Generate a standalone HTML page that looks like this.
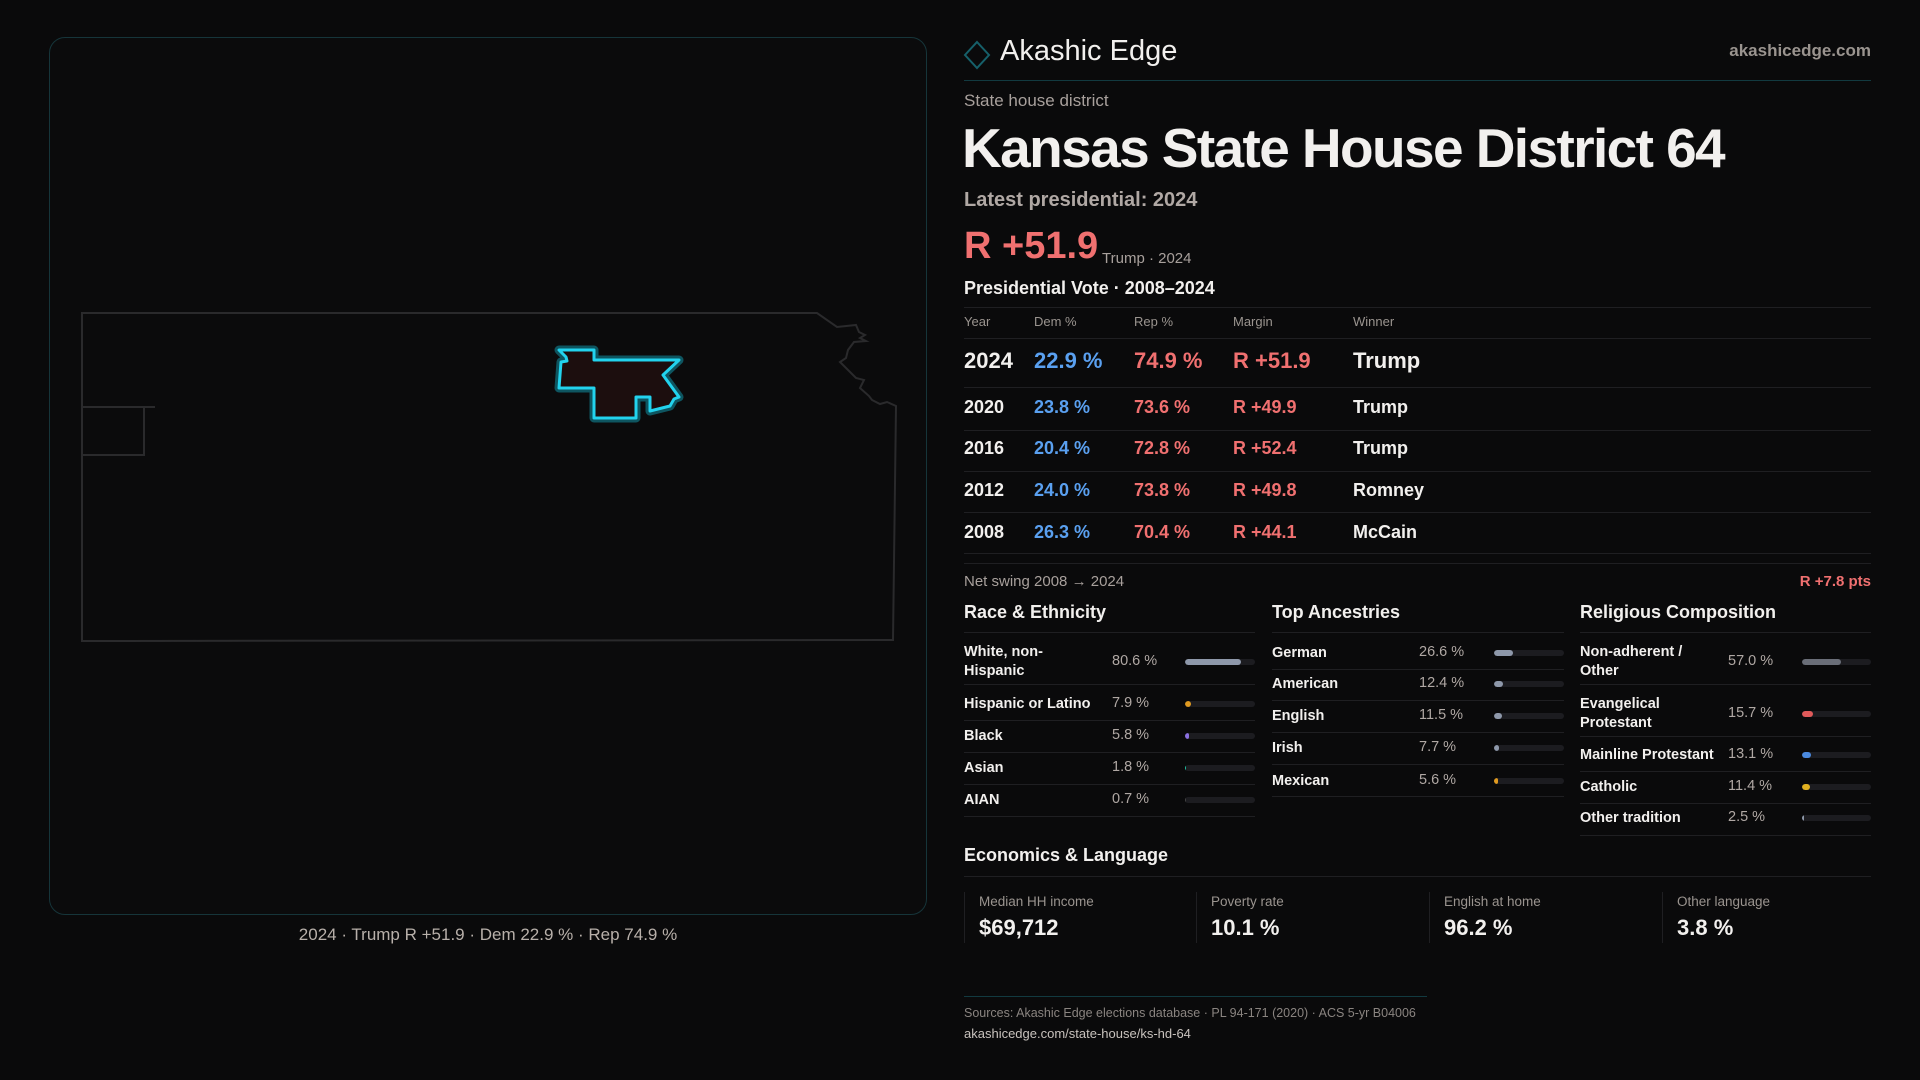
<!DOCTYPE html>
<html><head><meta charset="utf-8"><style>
*{margin:0;padding:0;box-sizing:border-box}
body{width:1920px;height:1080px;background:#0a0a0b;font-family:"Liberation Sans",sans-serif;color:#f2f0ee;position:relative;overflow:hidden}
.a{position:absolute;white-space:nowrap}
.g{color:#a8a09c}
.ln{position:absolute;height:1px;background:#1f1f22}
.red{color:#f07070}.blue{color:#5aa0f0}
.bar{position:absolute;height:6px;border-radius:3px;background:#1c1c20;overflow:hidden}
.bar i{display:block;height:100%;border-radius:3px}
</style></head><body>
<div class="a" style="left:49px;top:37px;width:878px;height:878px;border:1px solid #16353a;border-radius:16px;background:#0b0b0c"></div>
<svg class="a" style="left:0;top:0" width="960" height="1080">
<polygon fill="none" stroke="#2a2a2c" stroke-width="2" points="82,313 817,313 837,327 856,325 859,332 865,335 860,338 866,341 854,342 848,350 846,358 840,362 856,378 864,380 860,388 869,396 872,400 880,404 887,402 896,406 893,640 82,641"/>
<polyline fill="none" stroke="#2a2a2c" stroke-width="2" points="82,407 155,407"/>
<polyline fill="none" stroke="#2a2a2c" stroke-width="2" points="144,407 144,455 82,455"/>
<polygon fill="none" stroke="#0e5560" stroke-width="9" stroke-linejoin="round" points="559,350 594,350 594,360 679,360 663,375 679,397 674,399 670,406 650,411 650,397 636,397 636,418 594,418 594,388 559,388 561,362 567,361 566,357"/>
<polygon fill="#1c0e0e" stroke="#22d3ee" stroke-width="3" stroke-linejoin="round" points="559,350 594,350 594,360 679,360 663,375 679,397 674,399 670,406 650,411 650,397 636,397 636,418 594,418 594,388 559,388 561,362 567,361 566,357"/>
</svg>
<div class="a g" style="left:0;width:976px;text-align:center;top:925px;font-size:17px;color:#b8b0aa">2024 · Trump R +51.9 · Dem 22.9 % · Rep 74.9 %</div>

<svg class="a" style="left:962px;top:40px" width="30" height="30"><polygon points="15,2 27,15 15,28 3,15" fill="none" stroke="#16606a" stroke-width="2"/></svg>
<div class="a" style="left:1000px;top:35px;font-size:29px">Akashic Edge</div>
<div class="a g" style="right:49px;top:41px;font-size:17px;font-weight:bold;color:#9a948f">akashicedge.com</div>
<div class="ln" style="left:964px;width:907px;top:80px;background:#123a40"></div>
<div class="a g" style="left:964px;top:91px;font-size:17px">State house district</div>
<div class="a" style="left:962px;top:116px;font-size:55px;font-weight:bold;letter-spacing:-1.6px">Kansas State House District 64</div>
<div class="a g" style="left:964px;top:189px;font-size:20px;font-weight:bold;color:#b0a8a4">Latest presidential: 2024</div>
<div class="a red" style="left:964px;top:225px;font-size:38px;font-weight:bold">R +51.9</div>
<div class="a g" style="left:1102px;top:250px;font-size:15px">Trump · 2024</div>
<div class="a" style="left:964px;top:278px;font-size:18px;font-weight:bold">Presidential Vote · 2008–2024</div>
<div class="a g" style="left:964px;top:573px;font-size:15px">Net swing 2008 → 2024</div>
<div class="a red" style="right:49px;top:573px;font-size:15px;font-weight:bold">R +7.8 pts</div>
<div class="a" style="left:964px;top:845px;font-size:18px;font-weight:bold">Economics &amp; Language</div>
<div class="ln" style="left:964px;width:907px;top:876px"></div>
<div class="ln" style="left:964px;width:463px;top:996px;background:#123a40"></div>
<div class="a g" style="left:964px;top:1006px;font-size:12.5px;color:#8a8480">Sources: Akashic Edge elections database · PL 94-171 (2020) · ACS 5-yr B04006</div>
<div class="a" style="left:964px;top:1026px;font-size:13px;color:#c8c2bd">akashicedge.com/state-house/ks-hd-64</div>
<script>
const years=["2024","2020","2016","2012","2008"];
const demPct=[22.9,23.8,20.4,24.0,26.3];
const repPct=[74.9,73.6,72.8,73.8,70.4];
const margins=[51.9,49.9,52.4,49.8,44.1];
const winners=["Trump","Trump","Trump","Romney","McCain"];
const raceLabels=["White, non-<br>Hispanic","Hispanic or Latino","Black","Asian","AIAN"];
const raceVals=[80.6,7.9,5.8,1.8,0.7];
const ancLabels=["German","American","English","Irish","Mexican"];
const ancVals=[26.6,12.4,11.5,7.7,5.6];
const relLabels=["Non-adherent /<br>Other","Evangelical<br>Protestant","Mainline Protestant","Catholic","Other tradition"];
const relVals=[57.0,15.7,13.1,11.4,2.5];
const econLabels=["Median HH income","Poverty rate","English at home","Other language"];
const econVals=["$69,712","10.1 %","96.2 %","3.8 %"];
function add(p,html,name,style,cls){const d=document.createElement('div');d.className=cls||'a';d.style.cssText=style;d.innerHTML=html;


p.appendChild(d);return d;}
const body=document.body;
const cx=[964,1034,1134,1233,1353];
["Year","Dem %","Rep %","Margin","Winner"].forEach((h,i)=>add(body,h,'col-header',`left:${cx[i]}px;top:314px;font-size:13px;color:#9a948f`));
[307,338,387,430,471,512,553,563].forEach(y=>add(body,'','divider',`left:964px;width:907px;top:${y}px`,'ln'));
const rowY=[361,408,449,491,533];
years.forEach((y,i)=>{const fs=i==0?22:18,t=rowY[i]-fs*0.6,w='bold';
add(body,y,'row-year',`left:${cx[0]}px;top:${t}px;font-size:${fs}px;font-weight:${w}`);
add(body,demPct[i].toFixed(1)+' %','row-dem',`left:${cx[1]}px;top:${t}px;font-size:${fs}px;font-weight:${w};color:#5aa0f0`);
add(body,repPct[i].toFixed(1)+' %','row-rep',`left:${cx[2]}px;top:${t}px;font-size:${fs}px;font-weight:${w};color:#f07070`);
add(body,'R +'+margins[i].toFixed(1),'row-margin',`left:${cx[3]}px;top:${t}px;font-size:${fs}px;font-weight:${w};color:#f07070`);
add(body,winners[i],'row-winner',`left:${cx[4]}px;top:${t}px;font-size:${fs}px;font-weight:${w}`);});
function section(x,w,title,labels,vals,colors,ys,lines,valX,barX){
add(body,title,'section-heading',`left:${x}px;top:602px;font-size:18px;font-weight:bold`);
add(body,'','divider',`left:${x}px;width:${w}px;top:632px`,'ln');
lines.forEach(y=>add(body,'','divider',`left:${x}px;width:${w}px;top:${y}px`,'ln'));
labels.forEach((l,i)=>{const two=l.includes('<br>');
add(body,l,'row-label',`left:${x}px;top:${ys[i]-(two?19:9)}px;font-size:14.5px;font-weight:bold;line-height:19px`);
add(body,vals[i].toFixed(1)+' %','row-value',`left:${valX}px;top:${ys[i]-9}px;font-size:14.5px;color:#b0a8a4`);
add(body,'<i style="width:'+Math.max(vals[i],1.2)+'%;background:'+colors[i]+'"></i>','bar',`left:${barX}px;width:${x+w-barX}px;top:${ys[i]-3}px`,'bar');});}
section(964,291,"Race & Ethnicity",raceLabels,raceVals,["#8e98aa","#e09a20","#8a70e0","#20c0a0","#444"],[662,704,736,768,800],[684,720,752,784,816],1112,1185);
section(1272,292,"Top Ancestries",ancLabels,ancVals,["#8e98aa","#8e98aa","#8e98aa","#8e98aa","#e09a20"],[653,684,716,748,781],[669,700,732,764,796],1419,1494);
section(1580,291,"Religious Composition",relLabels,relVals,["#6a6e78","#e05a5a","#4a8ae0","#e0b020","#8e98aa"],[662,714,755,787,818],[684,736,771,803,835],1728,1802);
const ex=[964,1196,1429,1662];
econLabels.forEach((l,i)=>{add(body,'','card-border',`left:${ex[i]}px;top:892px;width:1px;height:51px;background:#1f1f22`);
add(body,l,'stat-label',`left:${ex[i]+15}px;top:894px;font-size:13.5px;color:#9a948f`);
add(body,econVals[i],'stat-value',`left:${ex[i]+15}px;top:915px;font-size:22px;font-weight:bold`);});
</script>
</body></html>
